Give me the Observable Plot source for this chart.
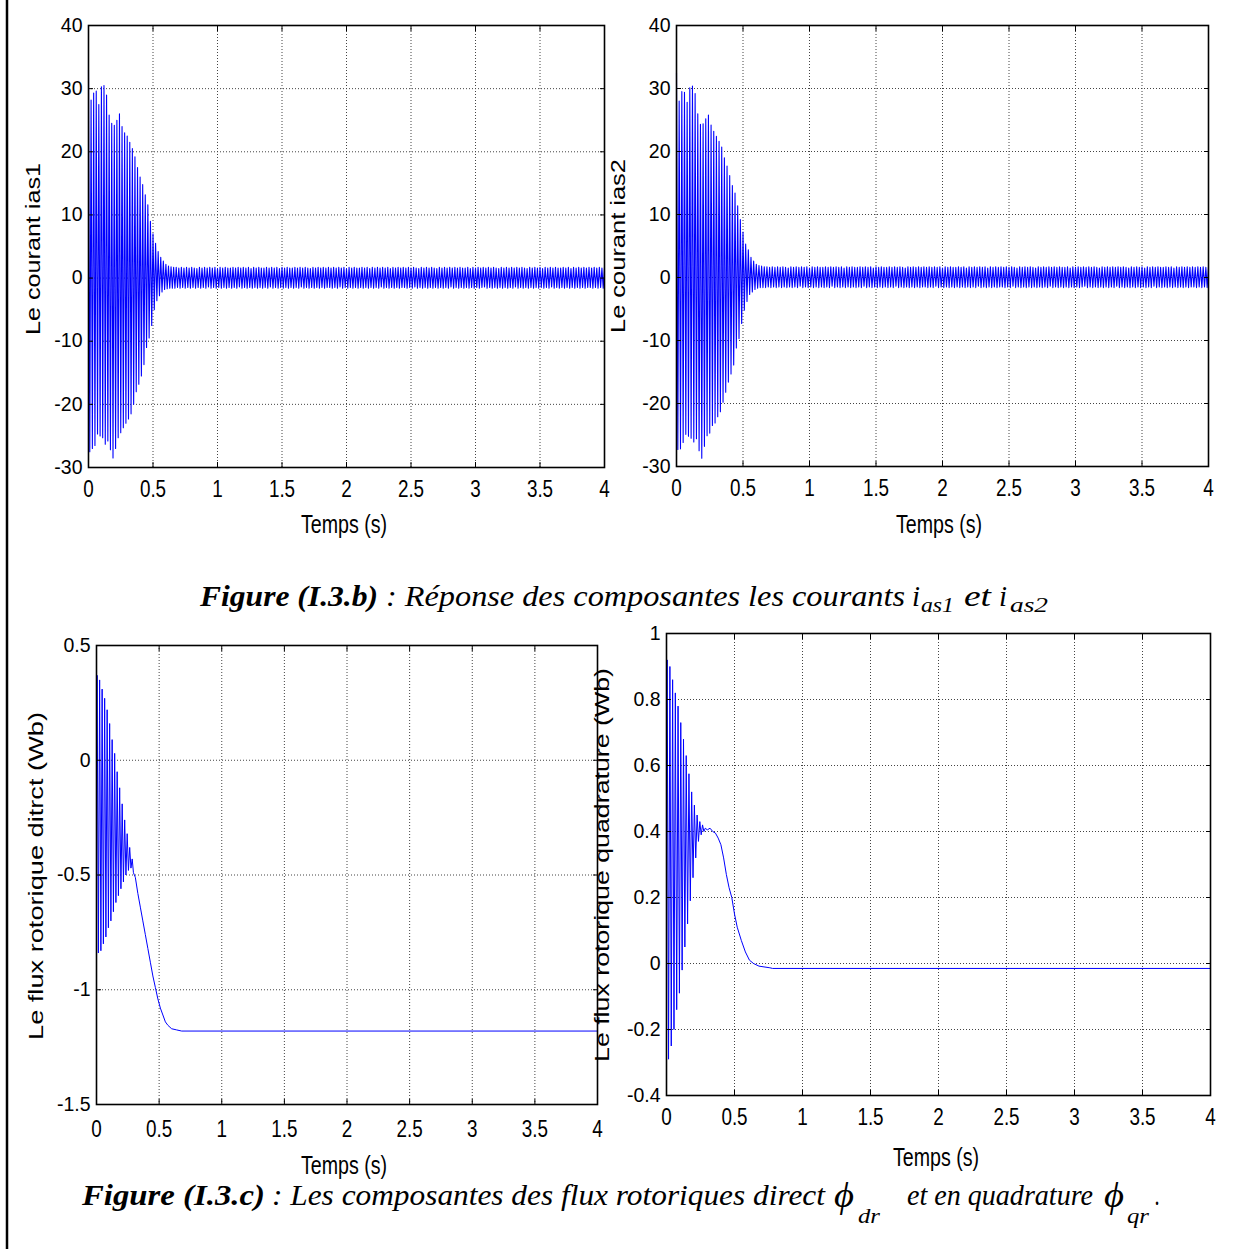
<!DOCTYPE html>
<html><head><meta charset="utf-8">
<script src="https://cdn.jsdelivr.net/npm/d3@7"></script>
<script src="https://cdn.jsdelivr.net/npm/@observablehq/plot@0.6"></script>
<style>
html,body{margin:0;padding:0;background:#fff;}
#page{position:relative;width:1248px;height:1249px;background:#fff;overflow:hidden;}
</style></head><body><div id="page"></div>
<script>
// ---------- tick values & labels ----------
const xTicks = [0, 0.5, 1, 1.5, 2, 2.5, 3, 3.5, 4];
const xTickLabels = ["0", "0.5", "1", "1.5", "2", "2.5", "3", "3.5", "4"];
const iasTicks = [-30, -20, -10, 0, 10, 20, 30, 40];
const iasTickLabels = ["-30", "-20", "-10", "0", "10", "20", "30", "40"];
const drTicks = [-1.5, -1, -0.5, 0, 0.5];
const drTickLabels = ["-1.5", "-1", "-0.5", "0", "0.5"];
const qrTicks = [-0.4, -0.2, 0, 0.2, 0.4, 0.6, 0.8, 1];
const qrTickLabels = ["-0.4", "-0.2", "0", "0.2", "0.4", "0.6", "0.8", "1"];

// ---------- stator currents: half-cycle peak values, one every sampleStep seconds ----------
const sampleStep = 0.01;
const ias1Transient = [
  33, -27.5, 28.2, -27, 29.3, -26.5, 29.6, -24.7, 27.5, -25,
  30.3, -25.3, 30.5, -26.3, 29, -25.8, 25.8, -27.2, 24.5, -28.5,
  24.2, -27, 25, -25.3, 26, -24.5, 24, -23.7, 23, -23,
  22.5, -22.3, 21.5, -21.5, 20.5, -20, 19.2, -18, 17.5, -16.8,
  16, -15.5, 14.8, -13.7, 13.2, -11, 11.6, -9.5, 9, -7.5,
  7, -5, 5.5, -3.6, 4.2, -2.8, 3.3, -2.2, 2.7, -1.8, 2.2
];
const ias2Transient = [
  32.5, -27.3, 28, -27.2, 29.5, -26.2, 29.4, -24.9, 27.8, -25.2,
  30.1, -25.5, 30.4, -26.1, 29.2, -25.6, 26, -27.5, 24.3, -28.7,
  24.4, -26.8, 25.2, -25.1, 25.8, -24.7, 24.2, -23.5, 23.2, -23.1,
  22.4, -22.1, 21.6, -21.3, 20.7, -19.8, 19, -18.2, 17.7, -16.6,
  16.2, -15.3, 14.6, -13.9, 13.4, -11.2, 11.4, -9.7, 9.2, -7.3,
  7.2, -5.2, 5.3, -3.8, 4.4, -2.7, 3.2, -2.3, 2.6, -1.9, 2.1
];
const iasSteady = [
  -1.7,1.9,-1.6,1.8,-1.6,1.7,-1.6,1.7,-1.5,1.6,-1.6,1.7,-1.5,1.6,-1.6,1.7,-1.5,1.6,-1.6,1.7,
  -1.5,1.6,-1.6,1.5,-1.5,1.7,-1.6,1.6,-1.5,1.7,-1.6,1.6,-1.4,1.7,-1.6,1.6,-1.5,1.7,-1.6,1.5,
  -1.5,1.7,-1.6,1.6,-1.5,1.7,-1.6,1.6,-1.5,1.6,-1.6,1.7,-1.5,1.6,-1.6,1.7,-1.4,1.6,-1.6,1.7,
  -1.5,1.6,-1.6,1.7,-1.5,1.5,-1.6,1.7,-1.5,1.6,-1.6,1.7,-1.5,1.6,-1.6,1.6,-1.5,1.7,-1.6,1.6,
  -1.4,1.7,-1.6,1.6,-1.5,1.7,-1.6,1.5,-1.5,1.7,-1.6,1.6,-1.5,1.7,-1.6,1.6,-1.5,1.6,-1.6,1.7,
  -1.5,1.6,-1.6,1.7,-1.4,1.6,-1.6,1.7,-1.5,1.6,-1.6,1.5,-1.5,1.7,-1.6,1.6,-1.5,1.7,-1.6,1.6,
  -1.5,1.7,-1.6,1.6,-1.5,1.7,-1.5,1.6,-1.6,1.7,-1.5,1.6,-1.6,1.7,-1.4,1.6,-1.6,1.7,-1.5,1.5,
  -1.6,1.7,-1.5,1.6,-1.6,1.7,-1.5,1.6,-1.6,1.6,-1.5,1.7,-1.6,1.6,-1.5,1.7,-1.6,1.5,-1.5,1.7,
  -1.6,1.6,-1.5,1.7,-1.6,1.6,-1.4,1.7,-1.6,1.6,-1.5,1.7,-1.6,1.5,-1.5,1.7,-1.6,1.6,-1.5,1.7,
  -1.6,1.6,-1.5,1.7,-1.5,1.6,-1.6,1.7,-1.5,1.6,-1.6,1.7,-1.4,1.6,-1.6,1.5,-1.5,1.7,-1.6,1.6,
  -1.5,1.7,-1.6,1.6,-1.5,1.7,-1.6,1.6,-1.5,1.5,-1.6,1.7,-1.5,1.6,-1.6,1.7,-1.5,1.6,-1.6,1.7,
  -1.4,1.6,-1.6,1.7,-1.5,1.6,-1.6,1.7,-1.5,1.6,-1.6,1.6,-1.5,1.7,-1.6,1.5,-1.5,1.7,-1.6,1.6,
  -1.5,1.7,-1.6,1.6,-1.5,1.7,-1.4,1.6,-1.6,1.7,-1.5,1.6,-1.6,1.7,-1.5,1.6,-1.6,1.5,-1.5,1.7,
  -1.6,1.6,-1.5,1.7,-1.6,1.6,-1.5,1.7,-1.6,1.6,-1.4,1.7,-1.6,1.6,-1.5,1.7,-1.6,1.6,-1.5,1.5,
  -1.6,1.7,-1.5,1.6,-1.6,1.7,-1.5,1.6,-1.6,1.7,-1.5,1.5,-1.6,1.7,-1.5,1.6,-1.6,1.7,-1.4,1.6,
  -1.6,1.7,-1.5,1.6,-1.6,1.6,-1.5,1.7,-1.6,1.6,-1.5,1.7,-1.6,1.5,-1.5,1.7,-1.6,1.6,-1.5,1.7,
  -1.6,1.6,-1.5,1.7,-1.6,1.6,-1.5,1.7,-1.5,1.6,-1.6,1.7,-1.5,1.6,-1.6,1.7,-1.5,1.6,-1.6,1.7
];

// ---------- rotor fluxes (time s, value Wb) ----------
const fluxDrTime = [0, 0.005, 0.015, 0.025, 0.035, 0.045, 0.055, 0.065, 0.075, 0.085, 0.095,
  0.105, 0.115, 0.125, 0.135, 0.145, 0.155, 0.165, 0.175, 0.185, 0.195,
  0.205, 0.215, 0.225, 0.235, 0.245, 0.255, 0.265, 0.275, 0.285, 0.295,
  0.31, 0.33, 0.35, 0.37, 0.39, 0.41, 0.43, 0.45, 0.47, 0.49, 0.51, 0.53, 0.55, 0.57, 0.60, 0.64, 0.68, 4];
const fluxDrValue = [0, 0.37, -0.84, 0.35, -0.83, 0.31, -0.80, 0.27, -0.77, 0.22, -0.73,
  0.16, -0.70, 0.09, -0.66, 0.03, -0.62, -0.05, -0.59, -0.12, -0.56,
  -0.19, -0.53, -0.26, -0.50, -0.32, -0.48, -0.38, -0.47, -0.43, -0.49,
  -0.51, -0.58, -0.64, -0.70, -0.76, -0.82, -0.88, -0.94, -0.99, -1.04, -1.08, -1.11, -1.14, -1.155, -1.17, -1.175, -1.18, -1.18];
const fluxQrTime = [0, 0.005, 0.015, 0.025, 0.035, 0.045, 0.055, 0.065, 0.075, 0.085, 0.095,
  0.105, 0.115, 0.125, 0.135, 0.145, 0.155, 0.165, 0.175, 0.185, 0.195,
  0.205, 0.215, 0.225, 0.235, 0.245, 0.255, 0.265, 0.275, 0.285,
  0.30, 0.32, 0.34, 0.36, 0.38, 0.40, 0.42, 0.44, 0.46, 0.48, 0.50, 0.52, 0.55, 0.58, 0.61, 0.64, 0.68, 0.76, 0.78, 4];
const fluxQrValue = [0.62, 0.92, -0.29, 0.90, -0.25, 0.86, -0.20, 0.82, -0.14, 0.78, -0.09,
  0.73, -0.02, 0.68, 0.05, 0.63, 0.12, 0.575, 0.19, 0.52, 0.26,
  0.48, 0.32, 0.45, 0.37, 0.43, 0.39, 0.42, 0.40, 0.41,
  0.405, 0.41, 0.40, 0.395, 0.38, 0.36, 0.32, 0.27, 0.23, 0.20, 0.15, 0.11, 0.07, 0.035, 0.01, 0.0, -0.008, -0.013, -0.015, -0.015];

// ---------- build tables ----------
const currentTable = tr => tr.concat(iasSteady).map((v, i) => ({t: i * sampleStep, v}));
const pairTable = (ts, vs) => ts.map((t, i) => ({t, v: vs[i]}));

const page = document.getElementById("page");
const FONT = '"Liberation Sans", Arial, Helvetica, sans-serif';

function chart({data, yDomain, yTicks, yLabels, left, top, width, height, mL, mR, mT, mB, xPad, lineWidth}) {
  const lab = (ticks, labels) => d => labels[ticks.indexOf(d)];
  const gridStyle = {stroke: "#444", strokeOpacity: 1, strokeWidth: 1, strokeDasharray: "1,2"};
  const blank = () => "";
  const svg = Plot.plot({
    width, height, marginLeft: mL, marginRight: mR, marginTop: mT, marginBottom: mB,
    x: {domain: [0, 4], label: null},
    y: {domain: yDomain, label: null},
    style: {position: "absolute", left: left + "px", top: top + "px", background: "transparent",
            overflow: "visible", fontFamily: FONT, color: "#000", maxWidth: "none"},
    marks: [
      Plot.gridX(xTicks, gridStyle),
      Plot.gridY(yTicks, gridStyle),
      Plot.line(data, {x: "t", y: "v", stroke: "#0000ff", strokeWidth: lineWidth}),
      Plot.frame({stroke: "#000", strokeWidth: 1.6}),
      // inward tick marks on all four sides
      Plot.axisX(xTicks, {anchor: "bottom", tickSize: 5, dy: -5, tickFormat: blank, label: null}),
      Plot.axisX(xTicks, {anchor: "top", tickSize: 5, dy: 5, tickFormat: blank, label: null}),
      Plot.axisY(yTicks, {anchor: "left", tickSize: 5, dx: 5, tickFormat: blank, label: null}),
      Plot.axisY(yTicks, {anchor: "right", tickSize: 5, dx: -5, tickFormat: blank, label: null}),
      // tick labels
      Plot.axisX(xTicks, {anchor: "bottom", tickSize: 0, tickPadding: xPad, fontSize: 23,
                          tickFormat: lab(xTicks, xTickLabels), label: null}),
      Plot.axisY(yTicks, {anchor: "left", tickSize: 0, tickPadding: 6, fontSize: 19.5,
                          tickFormat: lab(yTicks, yLabels), label: null})
    ]
  });
  // condensed look of the time tick labels
  svg.querySelectorAll('g[aria-label="x-axis tick label"] text').forEach(t => {
    const tr = t.getAttribute("transform") || "";
    t.setAttribute("transform", tr + " scale(0.82,1)");
  });
  page.appendChild(svg);
}

chart({data: currentTable(ias1Transient), yDomain: [-30, 40], yTicks: iasTicks, yLabels: iasTickLabels,
       left: 0, top: 0, width: 620, height: 510, mL: 88, mR: 16, mT: 25, mB: 43, xPad: 13, lineWidth: 1.1});
chart({data: currentTable(ias2Transient), yDomain: [-30, 40], yTicks: iasTicks, yLabels: iasTickLabels,
       left: 620, top: 0, width: 628, height: 510, mL: 56, mR: 40, mT: 25, mB: 44, xPad: 13, lineWidth: 1.1});
chart({data: pairTable(fluxDrTime, fluxDrValue), yDomain: [-1.5, 0.5], yTicks: drTicks, yLabels: drTickLabels,
       left: 0, top: 620, width: 620, height: 520, mL: 96, mR: 23, mT: 25, mB: 36, xPad: 16, lineWidth: 1});
chart({data: pairTable(fluxQrTime, fluxQrValue), yDomain: [-0.4, 1], yTicks: qrTicks, yLabels: qrTickLabels,
       left: 620, top: 610, width: 628, height: 530, mL: 46, mR: 38, mT: 23, mB: 45, xPad: 13, lineWidth: 1});

// ---------- overlay: axis titles, captions, page border ----------
const NS = "http://www.w3.org/2000/svg";
const ov = document.createElementNS(NS, "svg");
ov.setAttribute("width", 1248); ov.setAttribute("height", 1249);
ov.setAttribute("style", "position:absolute;left:0;top:0;pointer-events:none;overflow:visible");
const sans = FONT, serif = '"Liberation Serif", "Times New Roman", Times, serif';
function txt(s, attrs) {
  const el = document.createElementNS(NS, "text");
  for (const k in attrs) el.setAttribute(k, attrs[k]);
  el.textContent = s;
  ov.appendChild(el);
}
const vlabel = (s, x, y, len) => txt(s, {transform: `translate(${x},${y}) rotate(-90)`, "text-anchor": "middle",
  "font-family": sans, "font-size": 21, textLength: len, lengthAdjust: "spacingAndGlyphs"});
const hlabel = (s, x, y) => txt(s, {x, y, "text-anchor": "middle", "font-family": sans, "font-size": 26,
  textLength: 86, lengthAdjust: "spacingAndGlyphs"});
vlabel("Le courant ias1", 40, 249, 172);
vlabel("Le courant ias2", 625, 246, 174);
vlabel("Le flux rotorique ditrct (Wb)", 43, 876, 328);
vlabel("Le flux rotorique quadrature (Wb)", 609, 865, 394);
hlabel("Temps (s)", 344, 533);
hlabel("Temps (s)", 939, 533);
hlabel("Temps (s)", 344, 1174);
hlabel("Temps (s)", 936, 1166);

const cap = (s, x, y, len, extra) => txt(s, Object.assign({x, y, "font-family": serif, "font-size": 29,
  "font-style": "italic", textLength: len, lengthAdjust: "spacingAndGlyphs"}, extra || {}));
// Figure (I.3.b)
const b1 = 606;
cap("Figure (I.3.b)", 200, b1, 178, {"font-weight": "bold"});
cap(": Réponse des composantes les courants", 386, b1, 519);
cap("i", 912, b1, 8);
cap("as1", 921, b1 + 6, 33, {"font-size": 20});
cap("et", 964, b1, 27);
cap("i", 999, b1, 8);
cap("as2", 1010, b1 + 6, 38, {"font-size": 20});
// Figure (I.3.c)
const b2 = 1205;
cap("Figure (I.3.c)", 82, b2, 183, {"font-weight": "bold", "font-size": 30});
cap(": Les composantes des flux rotoriques direct", 272, b2, 553, {"font-size": 30});
cap("\u03D5", 834, b2 + 2, 20, {"font-size": 36});
cap("dr", 858, b2 + 18, 22, {"font-size": 22});
cap("et en quadrature", 907, b2, 186, {"font-size": 30});
cap("\u03D5", 1104, b2 + 2, 20, {"font-size": 36});
cap("qr", 1127, b2 + 18, 22, {"font-size": 22});
cap(".", 1155, b2, 5, {"font-size": 30});

const border = document.createElementNS(NS, "line");
border.setAttribute("x1", 7); border.setAttribute("x2", 7);
border.setAttribute("y1", 0); border.setAttribute("y2", 1249);
border.setAttribute("stroke", "#000"); border.setAttribute("stroke-width", 2.5);
ov.appendChild(border);
page.appendChild(ov);
</script></body></html>
